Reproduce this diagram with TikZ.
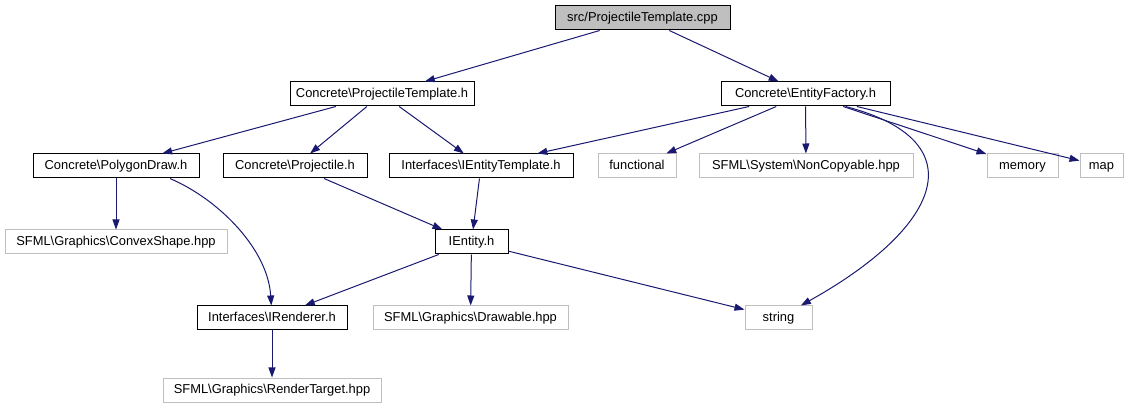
\documentclass[tikz,border=0pt]{standalone}
\usepackage{fontspec}
\setmainfont{Liberation Sans}
\usetikzlibrary{arrows.meta}
\definecolor{edgeblue}{HTML}{191970}
\definecolor{extgray}{HTML}{BFBFBF}
\newcommand{\bs}{\textbackslash}
\begin{document}
\begin{tikzpicture}[x=1pt,y=-1pt,
  box/.style={draw=black,line width=1pt,minimum height=24pt,inner sep=0pt,
    text height=9.4pt,text depth=2.6pt,
    font=\fontsize{12.9}{15}\selectfont,text=black},
  rootbox/.style={box,fill=extgray},
  extbox/.style={box,draw=extgray},
  dep/.style={draw=edgeblue,line width=1pt,-{Triangle[length=10pt,width=7pt]},edgeblue}]
\useasboundingbox (0,0) rectangle (1132,411);
\node[rootbox,minimum width=175pt] (A) at (642.5,18) {src/ProjectileTemplate.cpp};
\node[box,minimum width=184pt] (B) at (382,94) {Concrete\bs ProjectileTemplate.h};
\node[box,minimum width=169pt] (C) at (805.5,94) {Concrete\bs EntityFactory.h};
\node[box,minimum width=166pt] (D) at (116,166) {Concrete\bs PolygonDraw.h};
\node[box,minimum width=144pt] (E) at (295,166) {Concrete\bs Projectile.h};
\node[box,minimum width=184pt] (F) at (481,166) {Interfaces\bs IEntityTemplate.h};
\node[extbox,minimum width=78pt] (G) at (637,166) {functional};
\node[extbox,minimum width=214pt] (H) at (806,166) {SFML\bs System\bs NonCopyable.hpp};
\node[extbox,minimum width=71pt] (I) at (1022.5,166) {memory};
\node[extbox,minimum width=43pt] (J) at (1101.5,166) {map};
\node[extbox,minimum width=222pt] (K) at (116,242) {SFML\bs Graphics\bs ConvexShape.hpp};
\node[box,minimum width=73pt] (L) at (471.5,242) {IEntity.h};
\node[box,minimum width=150pt] (M) at (272,318) {Interfaces\bs IRenderer.h};
\node[extbox,minimum width=195pt] (N) at (470.5,318) {SFML\bs Graphics\bs Drawable.hpp};
\node[extbox,minimum width=67pt] (O) at (778.5,318) {string};
\node[extbox,minimum width=218pt] (P) at (272,390) {SFML\bs Graphics\bs RenderTarget.hpp};

\draw[dep] (A) -- (B);
\draw[dep] (A) -- (C);
\draw[dep] (B) -- (D);
\draw[dep] (B) -- (E);
\draw[dep] (B) -- (F);
\draw[dep] (C) -- (F);
\draw[dep] (C) -- (G);
\draw[dep] (C) -- (H);
\draw[dep] (C) -- (I);
\draw[dep] (C) -- (J);
\draw[dep] ([xshift=40pt]C.south) .. controls (975,140) and (945,225) .. (O);
\draw[dep] (D) -- (K);
\draw[dep] ([xshift=54pt]D.south) .. controls (220,200) and (268,250) .. (M);
\draw[dep] (E) -- (L);
\draw[dep] (F) -- (L);
\draw[dep] (L) -- (M);
\draw[dep] (L) -- (N);
\draw[dep] (L) -- (O);
\draw[dep] (M) -- (P);
\end{tikzpicture}
\end{document}
